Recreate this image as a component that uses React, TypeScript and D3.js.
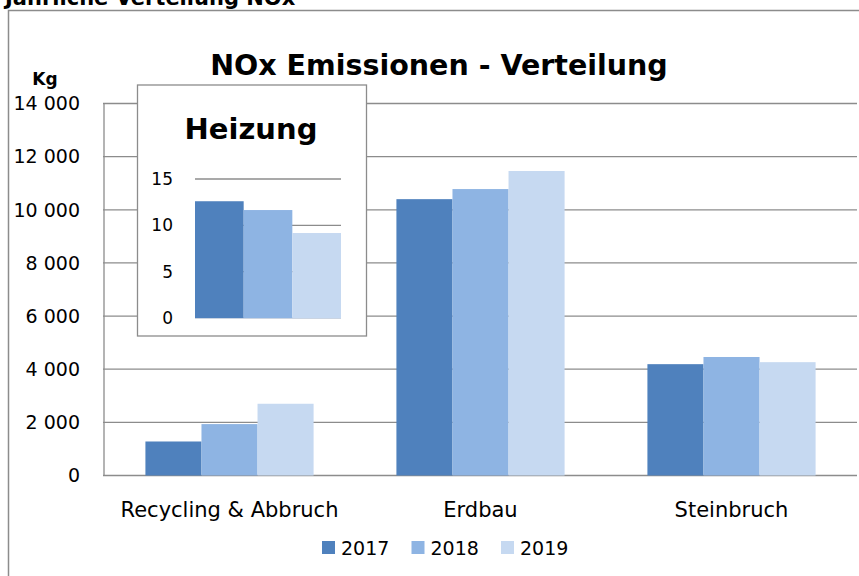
import * as d3 from "d3";

const categories = ["Recycling & Abbruch", "Erdbau", "Steinbruch"];
const years = ["2017", "2018", "2019"];
const values2017 = [1280, 10400, 4190];
const values2018 = [1935, 10780, 4460];
const values2019 = [2700, 11460, 4265];
const yTicks = [0, 2000, 4000, 6000, 8000, 10000, 12000, 14000];

const heizungValues = [12.6, 11.65, 9.17];
const heizungTicks = [0, 5, 10, 15];

const colors = ["#4f81bd", "#8eb4e3", "#c6d9f1"];
const gridColor = "#8c8c8c";
const font = "'DejaVu Sans', sans-serif";

const width = 859;
const height = 576;

// main plot area
const plotLeft = 104;
const plotRight = 857;
const plotTop = 103.5;
const plotBottom = 475.5;

// inset "Heizung" plot area
const insetLeft = 195;
const insetRight = 341;
const insetTop = 179;
const insetBottom = 318;

const fmt = (v: number) => d3.format(",")(v).replace(/,/g, " ");

const App = () => {
  const series = [values2017, values2018, values2019];

  const x0 = d3.scaleBand().domain(categories).range([plotLeft, plotRight]);
  const x1 = d3
    .scaleBand()
    .domain(years)
    .range([x0.bandwidth() * 0.165, x0.bandwidth() * 0.835]);
  const y = d3.scaleLinear().domain([0, 14000]).range([plotBottom, plotTop]);

  const xi = d3.scaleBand().domain(years).range([insetLeft, insetRight]);
  const yi = d3.scaleLinear().domain([0, 15]).range([insetBottom, insetTop]);

  return (
    <svg
      width={width}
      height={height}
      style={{ position: "absolute", left: 0, top: 0, background: "#fff" }}
      fontFamily={font}
    >
      {/* page heading, cut off at the top like in the original */}
      <text x={5} y={5} fontSize={21} fontWeight="bold" fill="#000">
        Jährliche Verteilung NOx
      </text>

      {/* chart frame (runs past the right and bottom edge) */}
      <rect
        x={8.5}
        y={10.5}
        width={width + 20}
        height={height + 20}
        fill="#fff"
        stroke={gridColor}
        strokeWidth={1.5}
      />

      <text
        x={439}
        y={75}
        textAnchor="middle"
        fontSize={28.5}
        fontWeight="bold"
        fill="#000"
      >
        NOx Emissionen - Verteilung
      </text>
      <text x={45} y={85} textAnchor="middle" fontSize={17} fontWeight="bold">
        Kg
      </text>

      {/* grid lines */}
      <g className="grid">
        {yTicks.map((t) => (
          <line
            key={t}
            x1={plotLeft - 1}
            x2={plotRight}
            y1={y(t)}
            y2={y(t)}
            stroke={gridColor}
            strokeWidth={1.3}
          />
        ))}
        <line
          x1={plotLeft}
          x2={plotLeft}
          y1={plotTop}
          y2={plotBottom}
          stroke={gridColor}
          strokeWidth={1.3}
        />
      </g>

      {/* y tick labels */}
      <g className="y-axis">
        {yTicks.map((t) => (
          <text
            key={t}
            x={80}
            y={y(t)}
            dy="0.36em"
            textAnchor="end"
            fontSize={19}
            fill="#000"
          >
            {fmt(t)}
          </text>
        ))}
      </g>

      {/* bars */}
      <g className="bars">
        {categories.map((c, ci) => (
          <g key={c} transform={`translate(${x0(c)},0)`}>
            {years.map((yr, si) => (
              <rect
                key={yr}
                x={x1(yr)}
                y={y(series[si][ci])}
                width={x1.bandwidth()}
                height={plotBottom - y(series[si][ci])}
                fill={colors[si]}
              />
            ))}
          </g>
        ))}
      </g>

      {/* category labels */}
      <g className="x-axis">
        {categories.map((c) => (
          <text
            key={c}
            x={x0(c)! + x0.bandwidth() / 2}
            y={517}
            textAnchor="middle"
            fontSize={21}
            fill="#000"
          >
            {c}
          </text>
        ))}
      </g>

      {/* legend */}
      <g className="legend">
        {years.map((yr, i) => (
          <g key={yr} transform={`translate(${322 + i * 89.5},541)`}>
            <rect width={13} height={13} fill={colors[i]} />
            <text x={19} y={14} fontSize={19} fill="#000">
              {yr}
            </text>
          </g>
        ))}
      </g>

      {/* inset chart */}
      <g className="inset">
        <rect
          x={137.5}
          y={85}
          width={229}
          height={251}
          fill="#fff"
          stroke={gridColor}
          strokeWidth={1.3}
        />
        <text
          x={251}
          y={139}
          textAnchor="middle"
          fontSize={29}
          fontWeight="bold"
          fill="#000"
        >
          Heizung
        </text>
        {heizungTicks.map((t) => (
          <line
            key={t}
            x1={insetLeft}
            x2={insetRight}
            y1={yi(t)}
            y2={yi(t)}
            stroke={t === 0 ? "#b8c6d8" : gridColor}
            strokeWidth={1.3}
          />
        ))}
        {heizungTicks.map((t) => (
          <text
            key={t}
            x={173}
            y={yi(t)}
            dy="0.36em"
            textAnchor="end"
            fontSize={17}
            fill="#000"
          >
            {t}
          </text>
        ))}
        {years.map((yr, i) => (
          <rect
            key={yr}
            x={xi(yr)}
            y={yi(heizungValues[i])}
            width={xi.bandwidth()}
            height={insetBottom - yi(heizungValues[i])}
            fill={colors[i]}
          />
        ))}
      </g>
    </svg>
  );
};

export default App;
